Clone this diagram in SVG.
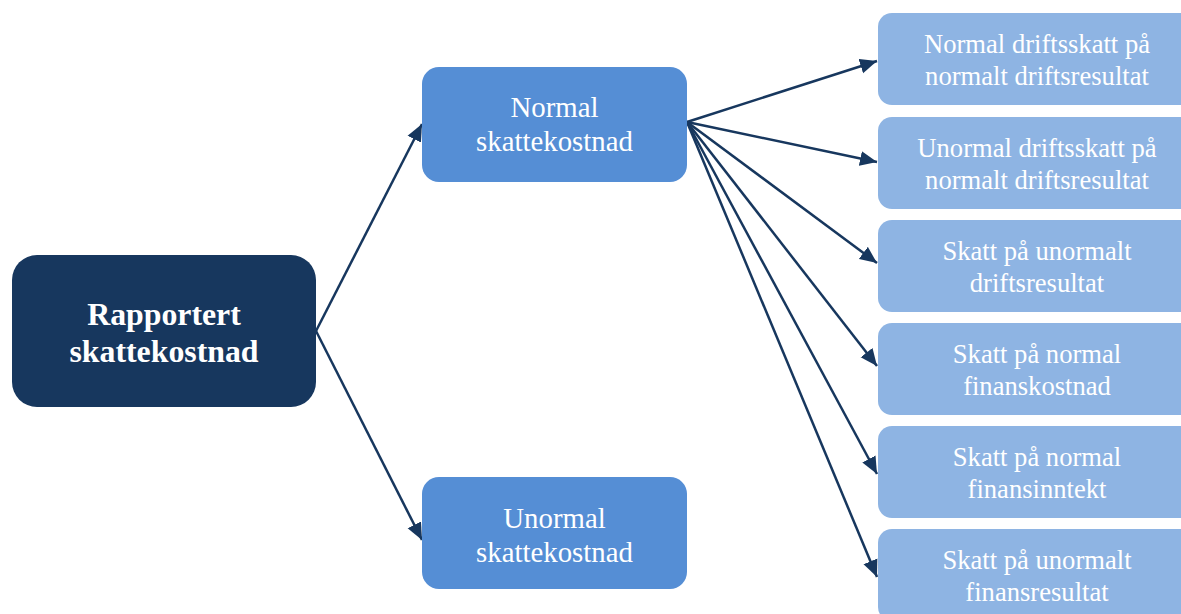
<svg xmlns="http://www.w3.org/2000/svg" width="1181" height="614" viewBox="0 0 1181 614">
  <style>
    .root { fill: #17375e; }
    .mid { fill: #558ed5; }
    .leaf { fill: #8eb4e3; }
    text { font-family: "Liberation Serif", "Times New Roman", serif; fill: #ffffff; text-anchor: middle; }
    .t-root { font-size: 31.8px; font-weight: bold; }
    .t-mid { font-size: 28.8px; }
    .t-leaf { font-size: 26.6px; }
    .conn { stroke: #17375e; stroke-width: 2.5; fill: none; marker-end: url(#arrow); }
  </style>
  <defs>
    <marker id="arrow" markerUnits="userSpaceOnUse" markerWidth="19" markerHeight="16" refX="17" refY="8" orient="auto">
      <path d="M0,0.5 L17,8 L0,15.5 Z" fill="#17375e"/>
    </marker>
  </defs>

  <rect width="1181" height="614" fill="#ffffff"/>

  <g id="connectors">
    <path class="conn" d="M316,331 L422,124"/>
    <path class="conn" d="M316,331 L422,540"/>
    <path class="conn" d="M687,122 L877,61"/>
    <path class="conn" d="M687,122 L877,162"/>
    <path class="conn" d="M687,122 L877,263"/>
    <path class="conn" d="M687,122 L877,366"/>
    <path class="conn" d="M687,122 L877,474"/>
    <path class="conn" d="M687,122 L877,577"/>
  </g>

  <g id="node-rapportert">
    <rect class="root" x="12" y="255" width="304" height="152" rx="25"/>
    <text class="t-root" x="164" y="325">Rapportert</text>
    <text class="t-root" x="164" y="362">skattekostnad</text>
  </g>

  <g id="node-normal">
    <rect class="mid" x="422" y="67" width="265" height="115" rx="17"/>
    <text class="t-mid" x="554.5" y="117">Normal</text>
    <text class="t-mid" x="554.5" y="151">skattekostnad</text>
  </g>

  <g id="node-unormal">
    <rect class="mid" x="422" y="477" width="265" height="112" rx="17"/>
    <text class="t-mid" x="554.5" y="528">Unormal</text>
    <text class="t-mid" x="554.5" y="562">skattekostnad</text>
  </g>

  <g id="node-leaf-1">
    <rect class="leaf" x="878" y="13" width="330" height="92" rx="14"/>
    <text class="t-leaf" x="1037" y="53">Normal driftsskatt på</text>
    <text class="t-leaf" x="1037" y="85">normalt driftsresultat</text>
  </g>

  <g id="node-leaf-2">
    <rect class="leaf" x="878" y="117" width="330" height="92" rx="14"/>
    <text class="t-leaf" x="1037" y="157">Unormal driftsskatt på</text>
    <text class="t-leaf" x="1037" y="189">normalt driftsresultat</text>
  </g>

  <g id="node-leaf-3">
    <rect class="leaf" x="878" y="220" width="330" height="92" rx="14"/>
    <text class="t-leaf" x="1037" y="260">Skatt på unormalt</text>
    <text class="t-leaf" x="1037" y="292">driftsresultat</text>
  </g>

  <g id="node-leaf-4">
    <rect class="leaf" x="878" y="323" width="330" height="92" rx="14"/>
    <text class="t-leaf" x="1037" y="363">Skatt på normal</text>
    <text class="t-leaf" x="1037" y="395">finanskostnad</text>
  </g>

  <g id="node-leaf-5">
    <rect class="leaf" x="878" y="426" width="330" height="92" rx="14"/>
    <text class="t-leaf" x="1037" y="466">Skatt på normal</text>
    <text class="t-leaf" x="1037" y="498">finansinntekt</text>
  </g>

  <g id="node-leaf-6">
    <rect class="leaf" x="878" y="529" width="330" height="92" rx="14"/>
    <text class="t-leaf" x="1037" y="569">Skatt på unormalt</text>
    <text class="t-leaf" x="1037" y="601">finansresultat</text>
  </g>
</svg>
